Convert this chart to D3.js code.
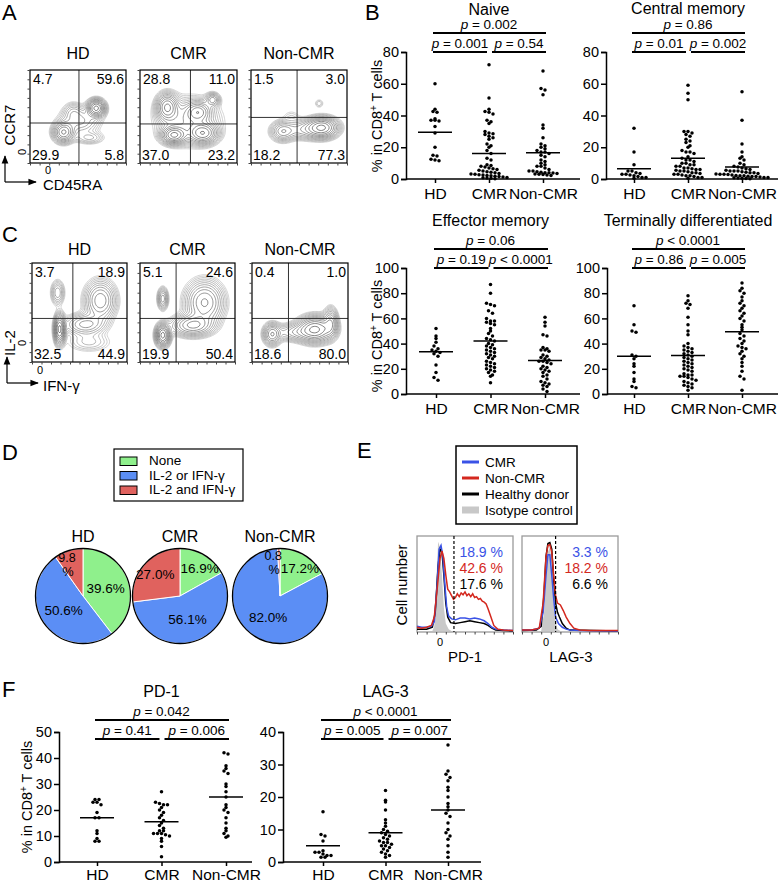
<!DOCTYPE html>
<html><head><meta charset="utf-8">
<script src="https://cdn.jsdelivr.net/npm/d3@7"></script>
<style>
body{margin:0;background:#fff}
svg{display:block}
text{font-family:"Liberation Sans",Arial,Helvetica,sans-serif;fill:#000}
</style></head>
<body><svg id="c" width="782" height="882"></svg>
<script>
// ---------------- DATA ----------------
const groups = ["HD", "CMR", "Non-CMR"];

// Panel A: CCR7 vs CD45RA quadrant percentages [TL, TR, BL, BR]
const flowAQuad = [[4.7, 59.6, 29.9, 5.8], [28.8, 11.0, 37.0, 23.2], [1.5, 3.0, 18.2, 77.3]];
const flowAGate = [[51, 43], [52, 42], [48, 49]];
// density blobs [cx, cy, sx, sy, weight] (percent of plot box)
const flowABlobs = [
  [[35,33,6,6,1.0],[69,59,5,5,1.4],[52,45,12,8,0.35],[62,27,9,4,0.2],[45,55,6,6,0.2]],
  [[28,60,6,8,0.7],[35,30,7,5,0.9],[65,32,8,6,0.8],[60,55,7,6,0.5],[75,68,4,4,0.35],[50,45,18,14,0.3]],
  [[33,34,7,6,0.55],[74,38,9,6,1.4],[55,36,12,6,0.4],[71,64,3,3,0.12],[42,50,6,5,0.08]]
];
// Panel C: IL-2 vs IFN-γ
const flowCQuad = [[3.7, 18.9, 32.5, 44.9], [5.1, 24.6, 19.9, 50.4], [0.4, 1.0, 18.6, 80.0]];
const flowCGate = [[43, 44], [38, 44], [38, 44]];
const flowCBlobs = [
  [[29,33,3,8,1.3],[27,70,4,7,0.3],[72,62,9,11,0.65],[56,38,12,6,0.45],[60,20,14,6,0.15]],
  [[24,27,4,6,1.1],[24,64,3,6,0.4],[68,60,11,12,0.6],[55,37,12,6,0.6]],
  [[21,28,5,6,0.6],[66,33,10,7,1.1],[82,40,4,8,0.5],[45,30,12,5,0.3]]
];

// Panel B
const naiveHD = [60,44,42.5,42,38,37,37,36.5,33,29,20,15,14.5,12.5,12,11.5];
const naiveCMR = [72,51,44,42.5,42,41,37,36,35,30,29,28.5,28,27,26,25,22,21,20,18,16,13,12,9,8.5,8,7.5,7,6.5,6,5.5,5,4.5,4.2,4,3.5,3.2,3,2.7,2.5,2.2,2,1.8,1.5,1.2,1,0.8,0.6,0.4,0.2];
const naiveNon = [68,57,56,53,34,32,26,22,21,20,19,18,17,17,16,15,14,12,11,10,9,8,8,7,6,5,5,4.5,4.2,4,4,3.8,3.5,3.2,3,2.8,2.5,2.2];
const naiveMed = [29.5, 16, 16.5];
const cmHD = [32,17,9,5,5,4,3.5,3,3,2.5,2,1.5,1,1,0.5];
const cmCMR = [59,54,50,30,30,29,28,27,25,24,23,21,20,18,17,17,16,14,13,12,12,11,10,10,9,9,8,8,7,7,6.5,6,6,5.5,5,5,4.5,4,4,3.5,3,3,2.5,2,2,1.5,1,1,0.5];
const cmNon = [55,37,22,17,14,13,12,10,9,8,7.5,7,6.5,6,5.5,5,5,5,4.5,4.2,4,4,3.5,3.2,3,3,2.8,2.5,2.2,2,2,1.8,1.5,1.5,1.2,1,1,0.8,0.6,0.5,0.3,0.2];
const cmMed = [6.5, 13, 7.5];
const emHD = [52,46,44,41,38,36,35,34,33,32,30,23,17,13,11];
const emCMR = [87,80,72,71,70,66,64,60,58,58,57,56,55,52,50,48,46,44,43,42,40,39,38,37,36,35,34,33,32,31,30,29,28,26,25,24,23,22,21,20,19,18,17,15,14,9];
const emNon = [61,57,54,47,46,37,36,35,35,34,31,30,29,28,27,26,26,25,24,22,21,20,19,18,17,15,14,12,10,9,8,7,6,4,2];
const emMed = [33.5, 42, 26.5];
const tdHD = [70,55,50,49,31,30,28,24,22,17,12,10,6,5];
const tdCMR = [78,74,72,71,68,61,55,50,47,40,38,37,36,35,34,33,32,31,30,29,28,27,26,25,24,23,22,21,20,19,18,16,15,15,14,14,13,12,11,10,9,8,7,6,5,3];
const tdNon = [88,84,82,80,77,74,72,70,68,66,64,62,60,58,55,53,51,48,46,44,42,40,38,37,36,34,32,30,28,25,22,18,14,12,3];
const tdMed = [30, 30.5, 49.5];

// Panel F
const pdHD = [24,24,23,23,22,19,17,17,12,11,9,8,8];
const pdCMR = [27,23,22.5,22,22,21,20,19,18,17,16,15,14,13,12,12,11,11,11,10.5,10,9,8,6,2];
const pdNon = [42,41.5,37,36,35,34,30,29,27,25,22,21,20,19,17,15,13,12,11,10,9.5];
const pdMed = [17, 15.5, 25];
const lagHD = [15.5,8.5,8,6.5,3.5,3,3,2.5,2,2,1.5,1.5];
const lagCMR = [22,19,18.5,16,13,12,11,10,9.5,9,8.5,8,7.5,7,6.5,6,6,5.5,5,5,4.5,4,3.5,3,2.5,2,1.5];
const lagNon = [36,28,27,26,25,23,22,20,18,17,16,15,14,12,10,9,8,7,5,3,1.5];
const lagMed = [5, 9, 16];

// Panel D pies
const pieCats = ["None", "IL-2 or IFN-γ", "IL-2 and IFN-γ"];
const pieHD = [39.6, 50.6, 9.8];
const pieCMR = [16.9, 56.1, 27.0];
const pieNon = [17.2, 82.0, 0.8];

// Panel E histograms [x%, height%]
const histSeries = ["CMR", "Non-CMR", "Healthy donor", "Isotype control"];
const pd1Iso = [[0,0],[16,0],[18,5],[20,50],[22,96],[24,90],[26,60],[28,25],[30,8],[33,2],[36,0],[100,0]];
const pd1CMR = [[0,5],[5,4],[10,4],[15,5],[18,10],[21,50],[23,88],[25,92],[27,80],[29,50],[31,25],[33,16],[36,13],[40,12],[45,14],[50,14],[55,13],[60,14],[65,13],[70,11],[74,8],[78,4],[82,2],[90,1],[100,0.5]];
const pd1Non = [[0,4],[5,3],[10,4],[15,6],[18,15],[21,45],[24,78],[26,86],[28,78],[30,60],[32,45],[34,42],[36,38],[38,34],[40,36],[42,40],[44,37],[46,41],[48,39],[50,42],[52,38],[54,40],[56,37],[58,40],[60,36],[62,37],[64,34],[66,35],[68,32],[70,31],[72,29],[74,24],[77,15],[80,6],[84,2],[90,1],[100,0.5]];
const pd1HD = [[0,2],[10,2],[16,4],[19,20],[22,70],[24,88],[26,85],[28,60],[30,30],[32,15],[35,9],[40,8],[45,9],[50,10],[55,11],[60,10],[65,9],[70,8],[74,6],[78,3],[82,1],[90,0.5],[100,0]];
const lagIso = [[0,0],[20,0],[23,20],[25,60],[27,85],[29,90],[31,75],[33,40],[35,10],[37,2],[40,0],[100,0]];
const lagCMRh = [[0,1],[10,1],[18,3],[22,20],[25,60],[27,82],[29,82],[31,60],[33,35],[35,15],[38,8],[42,4],[46,2],[50,1],[60,0.5],[100,0]];
const lagNonh = [[0,1],[10,1],[18,3],[22,30],[25,80],[27,92],[29,93],[31,85],[33,60],[35,38],[37,30],[40,28],[43,22],[46,15],[50,8],[54,3],[60,1],[70,0.5],[100,0.5]];
const lagHDh = [[0,0.5],[15,1],[20,5],[23,40],[25,80],[27,94],[29,95],[31,88],[33,55],[35,30],[37,20],[39,15],[42,8],[46,3],[50,1],[100,0]];
const pd1Pct = ["18.9 %", "42.6 %", "17.6 %"];
const lagPct = ["3.3 %", "18.2 %", "6.6 %"];

// ---------------- DRAW ----------------
const svg = d3.select("#c");
const defs = svg.append("defs");
const BLUE = "#3a52e6", RED = "#d4281e";
const FF = "'Liberation Sans',Arial,sans-serif";

function txt(x, y, s, size, anchor, g) {
  return (g || svg).append("text").attr("x", x).attr("y", y).attr("font-size", size)
    .attr("text-anchor", anchor || "start").text(s);
}
[["A",2,20],["B",365,20],["C",2,242],["D",2,460],["E",357,458],["F",2,697]]
  .forEach(d => txt(d[1], d[2], d[0], 22));

// ---- flow plots ----
let clipId = 0;
function flowPlot(box, blobs, gate, quad, title, titleY) {
  const g = svg.append("g");
  const w = box[1] - box[0], h = box[3] - box[2];
  txt((box[0] + box[1]) / 2, titleY, title, 16, "middle");
  const n = 70;
  const vals = new Float64Array(n * n);
  for (let j = 0; j < n; j++) for (let i = 0; i < n; i++) {
    const x = (i + 0.5) / n * 100, y = 100 - (j + 0.5) / n * 100;
    let s = 0;
    blobs.forEach(b => { s += b[4] * Math.exp(-((x - b[0]) ** 2) / (2 * b[2] * b[2]) - ((y - b[1]) ** 2) / (2 * b[3] * b[3])); });
    vals[j * n + i] = s;
  }
  const mx = d3.max(vals);
  const th = d3.range(13).map(i => mx * 0.035 * Math.pow(1.31, i));
  const cs = d3.contours().size([n, n]).thresholds(th)(vals);
  const sx = d3.scaleLinear([0, n], [box[0], box[1]]);
  const sy = d3.scaleLinear([0, n], [box[2], box[3]]);
  const path = d3.geoPath(d3.geoTransform({ point(x, y) { this.stream.point(sx(x), sy(y)); } }));
  const id = "clip" + (clipId++);
  defs.append("clipPath").attr("id", id).append("rect").attr("x", box[0]).attr("y", box[2]).attr("width", w).attr("height", h);
  const col = d3.interpolateRgb("#bcbcbc", "#3a3a3a");
  g.append("g").attr("clip-path", `url(#${id})`).selectAll("path").data(cs).join("path")
    .attr("d", path).attr("fill", "none").attr("stroke", (d, i) => col(i / (cs.length - 1)))
    .attr("stroke-width", 0.65);
  const px = d3.scaleLinear([0, 100], [box[0], box[1]]);
  const py = d3.scaleLinear([0, 100], [box[3], box[2]]);
  g.append("line").attr("x1", px(gate[0])).attr("x2", px(gate[0])).attr("y1", box[2]).attr("y2", box[3]).attr("stroke", "#333").attr("stroke-width", 1);
  g.append("line").attr("x1", box[0]).attr("x2", box[1]).attr("y1", py(gate[1])).attr("y2", py(gate[1])).attr("stroke", "#333").attr("stroke-width", 1);
  g.append("rect").attr("x", box[0]).attr("y", box[2]).attr("width", w).attr("height", h).attr("fill", "none").attr("stroke", "#000").attr("stroke-width", 1.2);
  g.append("g").attr("transform", `translate(0,${box[3]})`).call(d3.axisBottom(px).ticks(12).tickSize(2.5).tickFormat(""))
    .call(a => a.select(".domain").remove()).selectAll("line").attr("stroke", "#444");
  g.append("g").attr("transform", `translate(${box[0]},0)`).call(d3.axisLeft(py).ticks(12).tickSize(2.5).tickFormat(""))
    .call(a => a.select(".domain").remove()).selectAll("line").attr("stroke", "#444");
  const f = d3.format(".1f");
  txt(box[0] + 3, box[2] + 14, f(quad[0]), 14, "start", g);
  txt(box[1] - 2, box[2] + 14, f(quad[1]), 14, "end", g);
  txt(box[0] + 2, box[3] - 3, f(quad[2]), 14, "start", g);
  txt(box[1] - 2, box[3] - 3, f(quad[3]), 14, "end", g);
}
const boxesA = [[30,126,70,163],[140,237,70,163],[251,347,70,163]];
const boxesC = [[32,127,263,362],[140,235,263,362],[252,348,263,362]];
groups.forEach((gname, i) => {
  flowPlot(boxesA[i], flowABlobs[i], flowAGate[i], flowAQuad[i], gname, 59);
  flowPlot(boxesC[i], flowCBlobs[i], flowCGate[i], flowCQuad[i], gname, 255);
});
defs.append("marker").attr("id", "arr").attr("viewBox", "0 0 10 10").attr("refX", 9).attr("refY", 5)
  .attr("markerWidth", 7).attr("markerHeight", 7).attr("orient", "auto")
  .append("path").attr("d", "M0,1 L10,5 L0,9 z").attr("fill", "#000");
function arrows(x0, y0, top, right, ylab, ylabY, y0lab, xlab, x0labX, x0labY) {
  svg.append("line").attr("x1", x0).attr("y1", y0).attr("x2", x0).attr("y2", top).attr("stroke", "#000").attr("stroke-width", 1.2).attr("marker-end", "url(#arr)");
  svg.append("line").attr("x1", x0).attr("y1", y0).attr("x2", right).attr("y2", y0).attr("stroke", "#000").attr("stroke-width", 1.2).attr("marker-end", "url(#arr)");
  svg.append("text").attr("transform", `translate(15,${ylabY}) rotate(-90)`).attr("text-anchor", "middle").attr("font-size", 15).text(ylab);
  svg.append("text").attr("transform", `translate(26,${y0lab}) rotate(-90)`).attr("text-anchor", "middle").attr("font-size", 11).text("0");
  txt(x0labX, x0labY, "0", 11, "middle");
  txt(43, y0 + 8, xlab, 15, "start");
}
arrows(5, 182, 156, 36, "CCR7", 125, 152, "CD45RA", 48, 174);
arrows(7, 383, 357, 38, "IL-2", 343, 343, "IFN-γ", 40, 374);

// ---- scatter plots ----
function swarm(vals, y, cx, r) {
  const binH = 2 * r + 0.4, sp = 2 * r + 0.5;
  const bins = d3.group(vals, v => Math.round(y(v) / binH));
  const pts = [];
  bins.forEach(arr => arr.forEach((v, k) => pts.push({ x: cx + (k - (arr.length - 1) / 2) * sp, y: y(v) })));
  return pts;
}
function pText(g, x, y, rel, val) {
  const t = g.append("text").attr("x", x).attr("y", y).attr("text-anchor", "middle").attr("font-size", 13.5);
  t.append("tspan").attr("font-style", "italic").text("p");
  t.append("tspan").text(" " + rel + " " + val);
}
function yLabel(x, y) {
  const t = svg.append("text").attr("transform", `translate(${x},${y}) rotate(-90)`).attr("text-anchor", "middle").attr("font-size", 14.5);
  t.append("tspan").text("% in CD8");
  t.append("tspan").attr("baseline-shift", "super").attr("font-size", 10).text("+");
  t.append("tspan").text(" T cells");
}
function scatter(cfg) {
  const g = svg.append("g");
  const y = d3.scaleLinear([0, cfg.max], [cfg.bottom, cfg.top]);
  const x = d3.scalePoint(groups, cfg.xs);
  txt((x("HD") + x("Non-CMR")) / 2, cfg.titleY, cfg.title, 16, "middle", g);
  g.append("g").attr("transform", `translate(${cfg.axisX},0)`)
    .call(d3.axisLeft(y).tickValues(d3.range(0, cfg.max + 1, cfg.step)).tickSize(5).tickPadding(2))
    .call(a => a.selectAll("text").attr("font-size", 14.5).style("font-family", FF).attr("fill", "#000"))
    .call(a => a.selectAll("line,path").attr("stroke", "#000").attr("stroke-width", 1.5));
  g.append("line").attr("x1", cfg.axisX).attr("x2", cfg.xEnd).attr("y1", cfg.bottom).attr("y2", cfg.bottom).attr("stroke", "#000").attr("stroke-width", 1.5);
  g.append("g").attr("transform", `translate(0,${cfg.bottom})`)
    .call(d3.axisBottom(x).tickSize(4).tickPadding(cfg.labPad || 5))
    .call(a => a.select(".domain").remove())
    .call(a => a.selectAll("line").attr("stroke", "#000").attr("stroke-width", 1.5))
    .call(a => a.selectAll("text").attr("font-size", 15.5).style("font-family", FF).attr("fill", "#000").attr("dy", "0.71em"));
  cfg.data.forEach((vals, i) => {
    const pts = swarm(vals, y, x(groups[i]), 1.75);
    g.append("g").selectAll("circle").data(pts).join("circle")
      .attr("cx", d => d.x).attr("cy", d => d.y).attr("r", 1.75).attr("fill", "#000");
    g.append("line").attr("x1", x(groups[i]) - 17).attr("x2", x(groups[i]) + 17)
      .attr("y1", y(cfg.med[i])).attr("y2", y(cfg.med[i])).attr("stroke", "#000").attr("stroke-width", 1.5);
  });
  const xh = x("HD"), xc = x("CMR"), xn = x("Non-CMR");
  const bar = (a, b, yy) => g.append("line").attr("x1", a).attr("x2", b).attr("y1", yy).attr("y2", yy).attr("stroke", "#000").attr("stroke-width", 2.2);
  bar(xh - 2, xn + 3, cfg.barTop);
  bar(xh - 2, xc - 2, cfg.barLow);
  bar(xc + 3, xn + 3, cfg.barLow);
  pText(g, (xh + xn) / 2, cfg.barTop - 4, cfg.p[0][0], cfg.p[0][1]);
  pText(g, (xh + xc) / 2 - 2, cfg.barLow - 4, cfg.p[1][0], cfg.p[1][1]);
  pText(g, (xc + xn) / 2 + 3, cfg.barLow - 4, cfg.p[2][0], cfg.p[2][1]);
}
scatter({ title: "Naive", titleY: 15, axisX: 406, xEnd: 580, xs: [435, 543], top: 52, bottom: 179, max: 80, step: 20,
  data: [naiveHD, naiveCMR, naiveNon], med: naiveMed, barTop: 33, barLow: 52,
  p: [["=", "0.002"], ["=", "0.001"], ["=", "0.54"]] });
scatter({ title: "Central memory", titleY: 14, axisX: 606, xEnd: 778, xs: [634, 742], top: 52, bottom: 179, max: 80, step: 20,
  data: [cmHD, cmCMR, cmNon], med: cmMed, barTop: 33, barLow: 52,
  p: [["=", "0.86"], ["=", "0.01"], ["=", "0.002"]] });
scatter({ title: "Effector memory", titleY: 226, axisX: 406, xEnd: 580, xs: [436, 545], top: 268, bottom: 394, max: 100, step: 20,
  data: [emHD, emCMR, emNon], med: emMed, barTop: 249, barLow: 268,
  p: [["=", "0.06"], ["=", "0.19"], ["<", "0.0001"]] });
scatter({ title: "Terminally differentiated", titleY: 226, axisX: 607, xEnd: 778, xs: [634, 742], top: 268, bottom: 394, max: 100, step: 20,
  data: [tdHD, tdCMR, tdNon], med: tdMed, barTop: 249, barLow: 268,
  p: [["<", "0.0001"], ["=", "0.86"], ["=", "0.005"]] });
scatter({ title: "PD-1", titleY: 697, axisX: 59, xEnd: 252, xs: [97, 226], top: 732, bottom: 862, max: 50, step: 10,
  data: [pdHD, pdCMR, pdNon], med: pdMed, barTop: 720, barLow: 739, labPad: 3,
  p: [["=", "0.042"], ["=", "0.41"], ["=", "0.006"]] });
scatter({ title: "LAG-3", titleY: 697, axisX: 283, xEnd: 481, xs: [323, 448], top: 732, bottom: 862, max: 40, step: 10,
  data: [lagHD, lagCMR, lagNon], med: lagMed, barTop: 720, barLow: 739, labPad: 3,
  p: [["<", "0.0001"], ["=", "0.005"], ["=", "0.007"]] });
yLabel(382, 116);
yLabel(382, 336);
yLabel(32, 797);

// ---- Panel D: pies ----
const pieColors = ["#8ff08c", "#5b8ef5", "#e0625e"];
const lg = svg.append("g");
lg.append("rect").attr("x", 114).attr("y", 449).attr("width", 129).attr("height", 52).attr("fill", "#fff").attr("stroke", "#000").attr("stroke-width", 1.2);
pieCats.forEach((c, i) => {
  lg.append("rect").attr("x", 120).attr("y", 457 + i * 14.5).attr("width", 17).attr("height", 8.5).attr("fill", pieColors[i]).attr("stroke", "#000").attr("stroke-width", 1);
  txt(149, 465 + i * 14.5, c, 13.5, "start", lg);
});
const pieData = [pieHD, pieCMR, pieNon];
const pieCx = [83, 180, 280];
const R = 47.5;
const pieGen = d3.pie().sort(null).startAngle(0).endAngle(2 * Math.PI);
const arc = d3.arc().innerRadius(0).outerRadius(R);
pieData.forEach((vals, k) => {
  const g = svg.append("g").attr("transform", `translate(${pieCx[k]},596)`);
  txt(pieCx[k], 542, groups[k], 16, "middle");
  const arcs = pieGen(vals);
  g.selectAll("path").data(arcs).join("path").attr("d", arc).attr("fill", (d, i) => pieColors[i]).attr("stroke", "#fff").attr("stroke-width", 1);
  g.append("circle").attr("r", R).attr("fill", "none").attr("stroke", "#000").attr("stroke-width", 1.3);
  arcs.forEach(a => {
    const p = a.value;
    const lr = p > 30 ? 24 : 33;
    const c = d3.arc().innerRadius(lr).outerRadius(lr).centroid(a);
    const s = d3.format(".1f")(p);
    if (p < 10) {
      const t = g.append("text").attr("x", c[0] - 6).attr("y", c[1] - 3).attr("font-size", 12.5).attr("text-anchor", "middle");
      t.append("tspan").text(s);
      t.append("tspan").attr("x", c[0] - 5).attr("dy", 14).text("%");
    } else {
      txt(c[0] + (p < 20 ? 3 : 0), c[1] + 5, s + "%", 13.5, "middle", g);
    }
  });
});

// ---- Panel E: histograms ----
const eg = svg.append("g");
eg.append("rect").attr("x", 456).attr("y", 446).attr("width", 121).attr("height", 78).attr("fill", "#fff").attr("stroke", "#000").attr("stroke-width", 1.5);
const lineCols = [BLUE, RED, "#000"];
histSeries.forEach((s, i) => {
  const yy = 462 + i * 16;
  if (i < 3) eg.append("line").attr("x1", 462).attr("x2", 479).attr("y1", yy).attr("y2", yy).attr("stroke", lineCols[i]).attr("stroke-width", 3);
  else eg.append("rect").attr("x", 462).attr("y", yy - 3.5).attr("width", 17).attr("height", 7).attr("fill", "#c8c8c8");
  txt(485, yy + 5, s, 13.5, "start", eg);
});
function hist(box, iso, hd, cmr, non, gateX, zeroX, pct, label) {
  const g = svg.append("g");
  const x = d3.scaleLinear([0, 100], [box[0], box[1]]);
  const y = d3.scaleLinear([0, 100], [box[3] - 1, box[2] + 2]);
  g.append("rect").attr("x", box[0]).attr("y", box[2]).attr("width", box[1] - box[0]).attr("height", box[3] - box[2]).attr("fill", "#fff").attr("stroke", "#9a9a9a").attr("stroke-width", 1.3);
  g.append("path").attr("d", d3.area().x(d => x(d[0])).y0(y(0)).y1(d => y(d[1]))(iso)).attr("fill", "#c9c9c9");
  const ln = d3.line().x(d => x(d[0])).y(d => y(d[1]));
  [[hd, "#000"], [cmr, BLUE], [non, RED]].forEach(s => g.append("path").attr("d", ln(s[0])).attr("fill", "none").attr("stroke", s[1]).attr("stroke-width", 1.5));
  g.append("line").attr("x1", x(gateX)).attr("x2", x(gateX)).attr("y1", box[2]).attr("y2", box[3]).attr("stroke", "#000").attr("stroke-width", 1.2).attr("stroke-dasharray", "3,2");
  g.append("g").attr("transform", `translate(0,${box[3]})`).call(d3.axisBottom(x).ticks(14).tickSize(2.5).tickFormat(""))
    .call(a => a.select(".domain").remove()).selectAll("line").attr("stroke", "#444");
  [BLUE, RED, "#000"].forEach((c, i) => txt(box[1] - 10, 557 + i * 16, pct[i], 14, "end", g).style("fill", c));
  txt(x(zeroX), 646, "0", 11, "middle", g);
  txt(x(zeroX) + 25, 662, label, 15, "middle", g);
}
hist([417, 513, 536, 632], pd1Iso, pd1HD, pd1CMR, pd1Non, 38.5, 24, pd1Pct, "PD-1");
hist([522, 618, 536, 632], lagIso, lagHDh, lagCMRh, lagNonh, 35, 25, lagPct, "LAG-3");
svg.append("text").attr("transform", "translate(407,585) rotate(-90)").attr("text-anchor", "middle").attr("font-size", 15).text("Cell number");
</script>
</body></html>
